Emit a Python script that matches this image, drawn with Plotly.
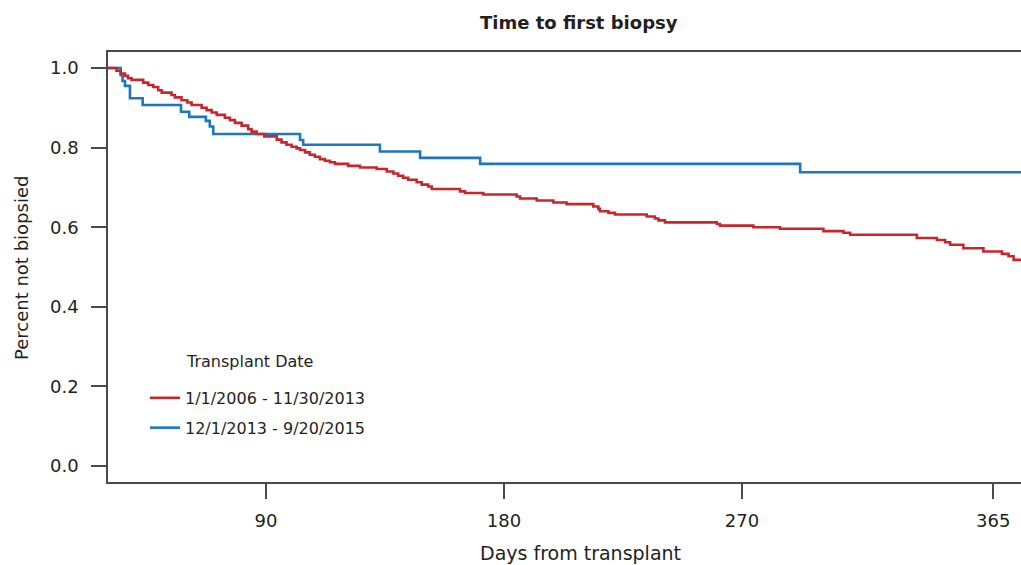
import plotly.graph_objects as go

# ---- data ----
series_names = ["1/1/2006 - 11/30/2013", "12/1/2013 - 9/20/2015"]
series_colors = ["#C8262C", "#1D76BE"]

red_days = [0, 33.5, 35.1, 36.7, 37.9, 39.2, 43.6, 45.5, 47.4, 49.3, 50.6, 54.3, 55.6,
            58.1, 60.3, 61.9, 65.7, 67.6, 69.5, 71.4, 74.5, 76.4, 78.3, 80.8, 83.3,
            84.6, 86.5, 89.4, 94.1, 95.9, 97.8, 99.7, 101.6, 102.9, 104.8, 106.6,
            108.5, 110.4, 112.3, 114.2, 116.1, 121.1, 125.6, 131.9, 135.7, 138.2,
            140.0, 141.9, 143.8, 147.0, 148.9, 151.4, 152.7, 163.4, 165.3, 172.2,
            184.8, 186.1, 192.4, 198.7, 203.7, 213.8, 215.7, 216.3, 219.5, 222.0,
            234.0, 237.1, 238.4, 240.9, 260.5, 261.7, 274.3, 284.4, 300.8, 308.4,
            310.9, 336.1, 343.7, 346.8, 348.7, 353.7, 361.3, 368.3, 370.8, 372.7, 380]
red_surv = [1.0, 0.993, 0.986, 0.980, 0.974, 0.970, 0.963, 0.957, 0.952, 0.944, 0.938,
            0.932, 0.926, 0.919, 0.913, 0.907, 0.900, 0.894, 0.888, 0.882, 0.875, 0.869,
            0.862, 0.855, 0.846, 0.840, 0.834, 0.828, 0.820, 0.813, 0.807, 0.802, 0.798,
            0.794, 0.788, 0.782, 0.777, 0.771, 0.767, 0.763, 0.759, 0.754, 0.750, 0.746,
            0.740, 0.735, 0.729, 0.724, 0.719, 0.713, 0.707, 0.702, 0.696, 0.690, 0.686,
            0.682, 0.677, 0.672, 0.667, 0.662, 0.658, 0.652, 0.646, 0.640, 0.636, 0.632,
            0.627, 0.622, 0.617, 0.612, 0.608, 0.604, 0.600, 0.596, 0.590, 0.586, 0.581,
            0.573, 0.568, 0.562, 0.556, 0.547, 0.539, 0.533, 0.527, 0.518, 0.518]

blue_days = [0, 35.1, 35.8, 36.7, 38.6, 43.4, 57.9, 61.0, 67.3, 68.8, 70.1, 102.9,
             104.1, 133.1, 148.3, 171.0, 292.0, 380]
blue_surv = [1.0, 0.982, 0.967, 0.955, 0.924, 0.907, 0.890, 0.877, 0.867, 0.853, 0.834,
             0.819, 0.807, 0.790, 0.774, 0.759, 0.738, 0.738]

x_ticks = [90, 180, 270, 365]
y_ticks = [0.0, 0.2, 0.4, 0.6, 0.8, 1.0]

title_text = "Time to first biopsy"
x_title = "Days from transplant"
y_title = "Percent not biopsied"
legend_title = "Transplant Date"

# ---- figure ----
FONT = "DejaVu Sans, Liberation Sans, Arial, sans-serif"
INK = "#231F20"
AX = "#4A4A4A"

fig = go.Figure()
for i, (d, s) in enumerate([(blue_days, blue_surv), (red_days, red_surv)]):
    idx = 1 - i
    fig.add_trace(go.Scatter(
        x=d, y=s, mode="lines", line_shape="hv",
        line=dict(color=series_colors[idx], width=2.6),
        name=series_names[idx], legendgroup=f"g{idx}", legendrank=idx + 1,
        hoverinfo="skip"))

fig.update_layout(
    width=1021, height=565,
    margin=dict(l=108, r=0, t=52, b=83),
    paper_bgcolor="white", plot_bgcolor="white",
    font=dict(family=FONT, color=INK, size=18),
    showlegend=True,
    legend=dict(x=0.0405, y=0.235, xanchor="left", yanchor="top",
                font=dict(size=16, family=FONT, color=INK),
                bgcolor="rgba(0,0,0,0)", itemwidth=30, tracegroupgap=6,
                traceorder="grouped"),
    xaxis=dict(range=[30.3, 375.5], tickvals=x_ticks, ticktext=[str(t) for t in x_ticks],
               ticks="outside", ticklen=15, tickwidth=1.5, tickcolor=AX,
               showline=True, linecolor=AX, linewidth=1.5, mirror=True,
               showgrid=False, zeroline=False, ticklabelstandoff=7,
               tickfont=dict(size=18)),
    yaxis=dict(range=[-0.04, 1.04], tickvals=y_ticks,
               ticktext=[f"{v:.1f}" for v in y_ticks],
               ticks="outside", ticklen=15, tickwidth=1.5, tickcolor=AX,
               showline=True, linecolor=AX, linewidth=1.5, mirror=False,
               showgrid=False, zeroline=False, ticklabelstandoff=9,
               tickfont=dict(size=18)),
)

fig.add_annotation(text=f"<b>{title_text}</b>", xref="paper", yref="paper",
                   x=(579 - 108) / 913, y=1 + (52 - 22) / 430,
                   xanchor="center", yanchor="middle", showarrow=False,
                   font=dict(size=18, family=FONT, color=INK))
fig.add_annotation(text=x_title, xref="paper", yref="paper",
                   x=(580 - 108) / 913, y=-(553 - 482) / 430,
                   xanchor="center", yanchor="middle", showarrow=False,
                   font=dict(size=19, family=FONT, color=INK))
fig.add_annotation(text=y_title, xref="paper", yref="paper",
                   x=-(108 - 21) / 913, y=(482 - 268) / 430, textangle=-90,
                   xanchor="center", yanchor="middle", showarrow=False,
                   font=dict(size=18, family=FONT, color=INK))
fig.add_annotation(text=legend_title, xref="paper", yref="paper",
                   x=(184 - 108) / 913, y=(482 - 361) / 430,
                   xanchor="left", yanchor="middle", showarrow=False,
                   font=dict(size=16, family=FONT, color=INK))

fig.write_html(
    "out.html",
    config={"displayModeBar": False},
    post_script="document.body.style.margin='0';document.body.style.overflow='hidden';",
)
